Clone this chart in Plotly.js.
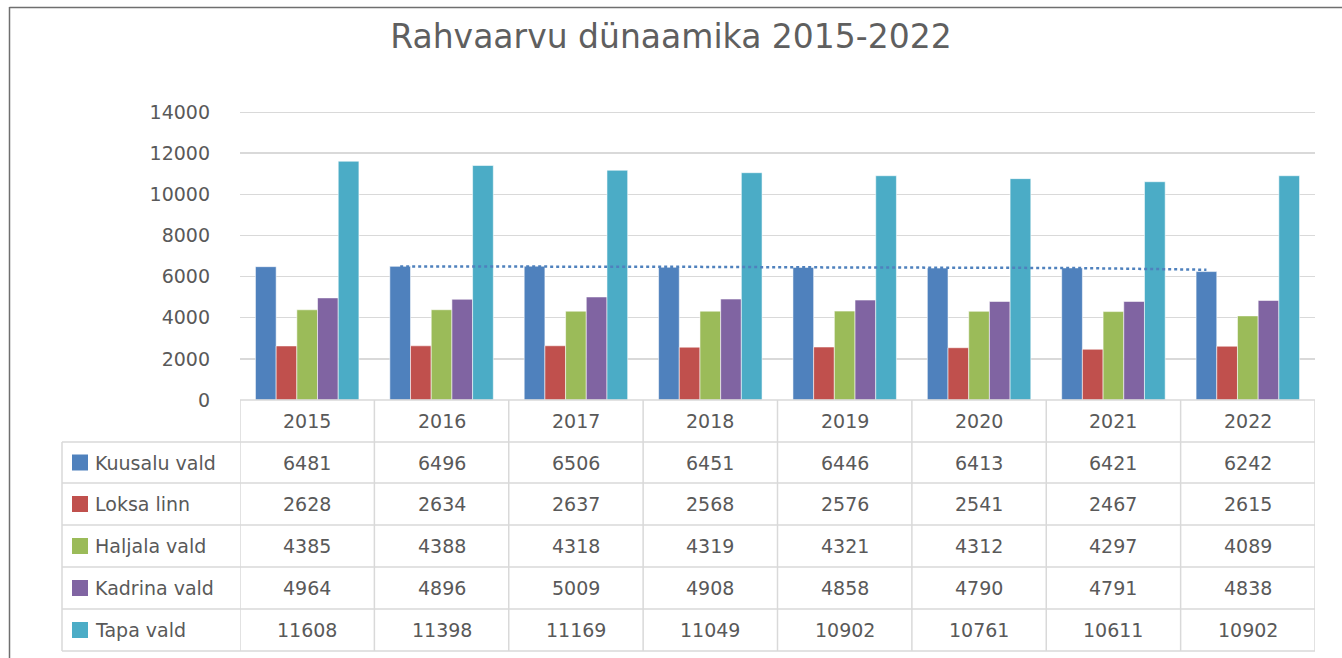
<!DOCTYPE html>
<html>
<head>
<meta charset="utf-8">
<script src="https://cdn.plot.ly/plotly-3.0.1.min.js"></script>
<style>html,body{margin:0;padding:0;background:#fff;}#chart{width:1342px;height:658px;}</style>
</head>
<body>
<div id="chart"></div>
<script>
// ---- data ----
const years = ['2015','2016','2017','2018','2019','2020','2021','2022'];
const seriesNames = ['Kuusalu vald','Loksa linn','Haljala vald','Kadrina vald','Tapa vald'];
const kuusalu = [6481,6496,6506,6451,6446,6413,6421,6242];
const loksa   = [2628,2634,2637,2568,2576,2541,2467,2615];
const haljala = [4385,4388,4318,4319,4321,4312,4297,4089];
const kadrina = [4964,4896,5009,4908,4858,4790,4791,4838];
const tapa    = [11608,11398,11169,11049,10902,10761,10611,10902];
// 2-period moving average trendline of Kuusalu vald (2016..2022), as drawn
const trendYears = ['2016','2017','2018','2019','2020','2021','2022'];
const kuusaluTrend = [6489,6501,6479,6449,6430,6417,6332];
const yTicks = [0,2000,4000,6000,8000,10000,12000,14000];
const colors = ['#4F81BD','#C0504D','#9BBB59','#8064A2','#4BACC6'];

// ---- layout helpers ----
const W = 1342, H = 658, L = 240, R = 1315, T = 112, B = 400;
const px = X => (X - L) / (R - L);
const py = Y => (B - Y) / (B - T);
const gridColor = '#D9D9D9';
const textColor = '#595959';
const font = 'DejaVu Sans';
const bargap = 0.23;
const nSeries = seriesNames.length;
const barW = (1 - bargap) / nSeries;
const firstOffset = -(1 - bargap) / 2 + barW / 2;

const allSeries = [kuusalu, loksa, haljala, kadrina, tapa];
const xIdx = years.map((y, i) => i);

const traces = allSeries.map((vals, s) => ({
  type: 'bar',
  name: seriesNames[s],
  x: xIdx,
  y: vals,
  marker: {color: colors[s], line: {color: 'rgba(255,255,255,0.55)', width: 1}},
  hoverinfo: 'none'
}));
traces.push({
  type: 'scatter',
  mode: 'lines',
  x: trendYears.map(y => years.indexOf(y) + firstOffset),
  y: kuusaluTrend,
  line: {color: colors[0], width: 2.5, dash: 'dot'},
  hoverinfo: 'none'
});

// ---- table grid ----
const rowsY = [400, 442, 483, 525, 567, 609, 651];
const shapes = [];
const line = {color: gridColor, width: 1.5};
// top gridline (at range edge)
shapes.push({type: 'line', xref: 'paper', yref: 'y', x0: 0, x1: 1, y0: yTicks[yTicks.length - 1], y1: yTicks[yTicks.length - 1], line: {color: gridColor, width: 2}, layer: 'below'});
shapes.push({type: 'line', xref: 'paper', yref: 'paper', x0: 0, x1: 1, y0: py(rowsY[0]), y1: py(rowsY[0]), line});
for (let r = 1; r < rowsY.length; r++) {
  shapes.push({type: 'line', xref: 'paper', yref: 'paper', x0: px(62), x1: 1, y0: py(rowsY[r]), y1: py(rowsY[r]), line});
}
for (let k = 0; k <= years.length; k++) {
  shapes.push({type: 'line', xref: 'x', yref: 'paper', x0: k - 0.5, x1: k - 0.5, y0: py(rowsY[0]), y1: py(rowsY[rowsY.length - 1]), line});
}
shapes.push({type: 'line', xref: 'paper', yref: 'paper', x0: px(62), x1: px(62), y0: py(rowsY[1]), y1: py(rowsY[rowsY.length - 1]), line});
// outer frame
shapes.push({type: 'line', xref: 'paper', yref: 'paper', x0: px(9.5), x1: px(9.5), y0: py(7), y1: py(660), line: {color: '#6f6f6f', width: 1.5}});
shapes.push({type: 'line', xref: 'paper', yref: 'paper', x0: px(9.5), x1: px(1345), y0: py(7.5), y1: py(7.5), line: {color: '#6f6f6f', width: 1.5}});

// ---- table texts ----
const annotations = [];
const tf = {family: font, size: 19, color: textColor};
const yMid = r => py((rowsY[r] + rowsY[r + 1]) / 2);
years.forEach((y, i) => {
  annotations.push({xref: 'x', yref: 'paper', x: i, y: yMid(0), text: y, showarrow: false, font: tf, xanchor: 'center', yanchor: 'middle'});
});
allSeries.forEach((vals, s) => {
  const r = s + 1;
  const yc = (rowsY[r] + rowsY[r + 1]) / 2;
  shapes.push({type: 'rect', xref: 'paper', yref: 'paper', x0: px(72), x1: px(88), y0: py(yc - 8), y1: py(yc + 8), fillcolor: colors[s], line: {width: 0}});
  annotations.push({xref: 'paper', yref: 'paper', x: px(93), y: yMid(r), text: seriesNames[s], showarrow: false, font: tf, xanchor: 'left', yanchor: 'middle'});
  vals.forEach((v, i) => {
    annotations.push({xref: 'x', yref: 'paper', x: i, y: yMid(r), text: String(v), showarrow: false, font: tf, xanchor: 'center', yanchor: 'middle'});
  });
});

const layout = {
  width: W, height: H,
  margin: {l: L, r: W - R, t: T, b: H - B, pad: 0},
  paper_bgcolor: '#fff', plot_bgcolor: '#fff',
  showlegend: false,
  barmode: 'group', bargap: bargap, bargroupgap: 0,
  title: {text: 'Rahvaarvu dünaamika 2015-2022', font: {family: font, size: 33, color: '#5f5f5f'},
          x: 0.5, xref: 'container', xanchor: 'center', y: 1 - 36 / H, yref: 'container', yanchor: 'middle'},
  xaxis: {range: [-0.5, years.length - 0.5], showticklabels: false, showgrid: false, zeroline: false, showline: false, fixedrange: true},
  yaxis: {range: [0, 14000], tickmode: 'array', tickvals: yTicks, ticktext: yTicks.map(String),
          showgrid: true, gridcolor: gridColor, gridwidth: 1.5,
          zeroline: false, showline: false, ticks: '', ticklabelstandoff: 29,
          tickfont: {family: font, size: 19, color: textColor}, fixedrange: true},
  shapes, annotations
};

Plotly.newPlot('chart', traces, layout, {displayModeBar: false, staticPlot: true});
</script>
</body>
</html>
